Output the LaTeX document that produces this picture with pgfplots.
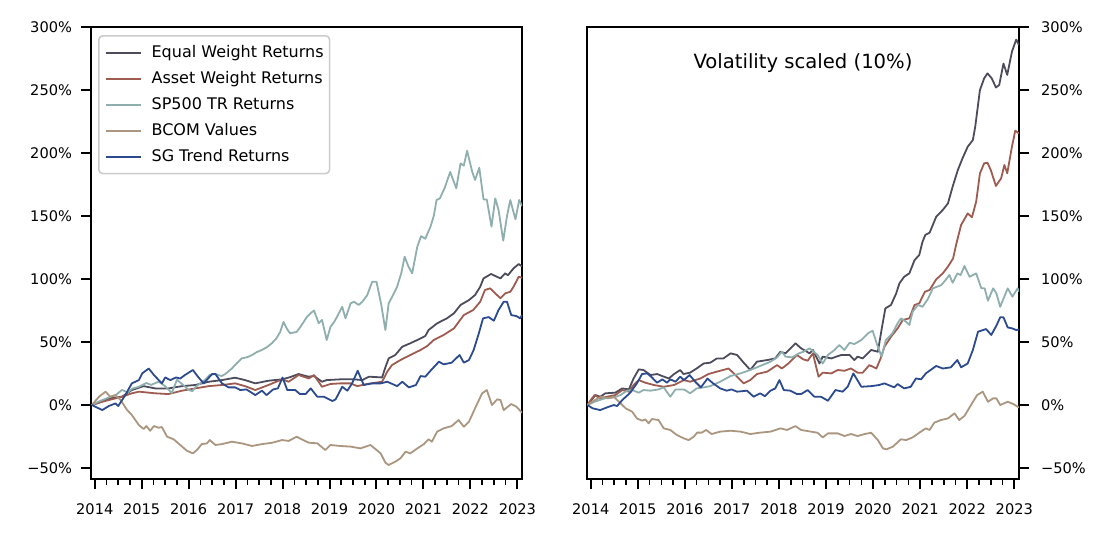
\documentclass[border=0pt]{standalone}
\usepackage{fontspec}
\setmainfont{DejaVu Sans}
\usepackage{pgfplots}
\pgfplotsset{compat=1.18}
\definecolor{cEW}{HTML}{4C4C5C}
\definecolor{cAW}{HTML}{9E5B4F}
\definecolor{cSP}{HTML}{8FAEAE}
\definecolor{cBC}{HTML}{AB9680}
\definecolor{cSG}{HTML}{2C4A8E}
\pgfplotsset{common/.style={
  scale only axis, height=226pt,
  xmin=2013.92, xmax=2023.1, ymin=-58.7, ymax=300,
  axis line style={line width=1pt},
  tick align=outside,
  major tick length=5pt, minor tick length=2.8pt,
  tick style={line width=1pt, black},
  minor tick style={line width=0.8pt, black},
  xtick={2014,2015,2016,2017,2018,2019,2020,2021,2022,2023},
  xticklabels={2014,2015,2016,2017,2018,2019,2020,2021,2022,2023},
  minor x tick num=3,
  xtick pos=bottom,
  ytick={-50,0,50,100,150,200,250,300},
  yticklabels={−50\%,0\%,50\%,100\%,150\%,200\%,250\%,300\%},
  tick label style={font=\fontsize{7.3}{9}\selectfont},
  xticklabel style={yshift=-4pt},
  every axis plot/.append style={line width=0.9pt, line join=round},
}}
\begin{document}
\begin{tikzpicture}
\path[use as bounding box] (0,0) rectangle (554.5pt,268.5pt);
\begin{axis}[common, at={(45.5pt,29pt)}, anchor=south west, width=215.5pt,
  ytick pos=left, yticklabel style={xshift=-1pt},
  legend cell align=left,
  legend image code/.code={\draw[#1] (0pt,0pt) -- (17.5pt,0pt);},
  legend style={at={(0,1)}, anchor=north west, xshift=3.5pt, yshift=-4pt,
    draw=black!20, line width=0.8pt, rounded corners=2pt, fill=white,
    font=\fontsize{8}{9}\selectfont, inner xsep=3pt, inner ysep=4.6pt,
    nodes={inner sep=0pt, text height=6pt, text depth=1.7pt},
    row sep=5.3pt,
    /tikz/every odd column/.append style={column sep=5pt}},
]
\addplot[cEW] coordinates {(2013.94,0) (2014.1,2) (2014.3,5.3) (2014.58,6.6) (2014.79,11.9) (2015.04,15) (2015.29,13.2) (2015.57,13.2) (2015.86,15) (2016.14,15.9) (2016.43,18.5) (2016.71,19.8) (2016.99,21.7) (2017.2,19.8) (2017.42,17.2) (2017.7,19.3) (2017.99,20.4) (2018.15,22) (2018.34,24.6) (2018.55,22.5) (2018.67,23) (2018.84,18.5) (2018.94,19.8) (2019.23,20.4) (2019.52,20.4) (2019.7,19.8) (2019.84,22.5) (2020.12,21.9) (2020.19,30) (2020.26,37) (2020.4,39.7) (2020.55,46.3) (2020.72,49) (2020.87,51.6) (2021.04,54.8) (2021.11,59.5) (2021.29,64.8) (2021.5,68.8) (2021.65,72.8) (2021.79,79.4) (2021.97,83.3) (2022.1,87.3) (2022.21,93.9) (2022.28,100.5) (2022.44,104) (2022.64,100.5) (2022.74,104.5) (2022.8,103) (2022.92,108.5) (2023.03,111.9) (2023.1,110)};
\addlegendentry{Equal Weight Returns}
\addplot[cAW] coordinates {(2013.94,0) (2014.1,2) (2014.3,4) (2014.58,6.6) (2014.79,9.3) (2014.94,10.6) (2015.29,9.3) (2015.57,8.7) (2015.86,11.4) (2016.14,13.2) (2016.43,15) (2016.71,15.9) (2016.99,17.2) (2017.2,15) (2017.42,11.9) (2017.7,15.9) (2017.99,20.4) (2018.13,18.5) (2018.34,23.8) (2018.56,21.1) (2018.67,23.8) (2018.84,14.5) (2019.02,16.7) (2019.23,17.2) (2019.45,17.2) (2019.59,15) (2019.8,16.7) (2020.12,18.5) (2020.23,26.5) (2020.33,31.7) (2020.51,35.7) (2020.72,39.7) (2020.94,43.7) (2021.08,46.8) (2021.22,51.6) (2021.43,55.6) (2021.65,60.8) (2021.86,71.4) (2022.06,75.4) (2022.21,82) (2022.31,91.3) (2022.42,92.6) (2022.64,84.7) (2022.74,88.6) (2022.85,89.9) (2022.92,93.9) (2023.03,101.8) (2023.1,101)};
\addlegendentry{Asset Weight Returns}
\addplot[cSP] coordinates {(2013.94,0) (2014.1,3) (2014.3,6) (2014.45,8) (2014.58,12) (2014.7,10) (2014.8,13) (2014.94,14.5) (2015.1,17.5) (2015.2,16) (2015.36,18.5) (2015.5,15) (2015.64,9.5) (2015.75,20) (2015.85,17) (2016.0,12) (2016.08,11) (2016.15,14.5) (2016.35,20) (2016.45,24) (2016.57,24.6) (2016.7,23) (2016.78,24.6) (2016.92,29) (2017.02,33) (2017.13,37) (2017.25,38) (2017.35,39.7) (2017.45,42) (2017.56,43.7) (2017.67,46) (2017.77,49) (2017.87,53) (2017.95,58) (2018.02,66) (2018.1,60) (2018.16,57) (2018.3,58) (2018.38,62) (2018.45,66) (2018.52,70) (2018.6,73) (2018.67,75) (2018.77,65) (2018.84,67.5) (2018.94,51.6) (2019.02,62) (2019.1,66) (2019.16,70) (2019.27,78) (2019.34,68.8) (2019.45,80.7) (2019.52,82) (2019.62,79.4) (2019.7,82) (2019.8,87) (2019.91,97.9) (2020.0,97.9) (2020.1,80) (2020.19,59.5) (2020.26,80.7) (2020.35,87) (2020.44,93.9) (2020.53,105) (2020.6,117.7) (2020.68,110) (2020.76,104.5) (2020.87,125.7) (2020.95,134) (2021.04,132) (2021.15,141.5) (2021.22,150) (2021.28,162.7) (2021.35,164) (2021.45,172) (2021.57,185) (2021.7,172) (2021.79,191.8) (2021.86,190) (2021.93,201.8) (2022.04,185) (2022.1,178.6) (2022.19,188.3) (2022.28,163.2) (2022.35,163) (2022.45,141.5) (2022.53,164) (2022.6,154.8) (2022.7,130.4) (2022.78,150) (2022.85,162.7) (2022.96,147.4) (2023.04,162.7) (2023.1,158)};
\addlegendentry{SP500 TR Returns}
\addplot[cBC] coordinates {(2013.94,0) (2014.09,6.6) (2014.23,10.6) (2014.33,6.6) (2014.44,7.9) (2014.55,4) (2014.69,-4) (2014.79,-7.9) (2014.94,-15.9) (2015.04,-19) (2015.1,-16.7) (2015.18,-20.4) (2015.26,-16.7) (2015.36,-18) (2015.43,-17.5) (2015.54,-25.1) (2015.68,-27.2) (2015.82,-31.7) (2015.96,-36.2) (2016.09,-38.4) (2016.18,-35.5) (2016.28,-31) (2016.39,-30.4) (2016.45,-27.8) (2016.57,-31.7) (2016.71,-31) (2016.92,-29.1) (2017.13,-30.4) (2017.35,-32.5) (2017.56,-31) (2017.77,-30) (2017.99,-27.8) (2018.13,-28.5) (2018.3,-25.1) (2018.45,-28) (2018.56,-29.9) (2018.74,-30.4) (2018.91,-35.7) (2019.02,-31.7) (2019.23,-32.5) (2019.45,-33) (2019.66,-34.4) (2019.87,-31.7) (2019.98,-35) (2020.09,-38.4) (2020.19,-45.8) (2020.26,-47.6) (2020.4,-45) (2020.51,-42.3) (2020.62,-37) (2020.72,-38.4) (2020.87,-34.4) (2021.01,-31) (2021.11,-27.2) (2021.18,-29.1) (2021.29,-21.2) (2021.43,-18.5) (2021.6,-16.7) (2021.75,-11.9) (2021.86,-17.2) (2021.97,-13.2) (2022.1,-2.6) (2022.25,9.3) (2022.35,11.9) (2022.46,0) (2022.57,4.5) (2022.64,4) (2022.71,-4) (2022.87,0.8) (2022.98,-1.3) (2023.1,-6.1)};
\addlegendentry{BCOM Values}
\addplot[cSG] coordinates {(2013.94,0) (2014.01,-1.3) (2014.16,-4) (2014.3,-0.8) (2014.44,1.3) (2014.5,-0.8) (2014.65,7.9) (2014.79,17.2) (2014.94,19.8) (2015.01,25.1) (2015.15,29) (2015.26,23.8) (2015.43,17.2) (2015.5,21.9) (2015.61,19.8) (2015.73,21.9) (2015.82,21) (2015.92,23.8) (2016.09,27.8) (2016.21,21.9) (2016.32,17.2) (2016.5,24.6) (2016.57,24.6) (2016.71,17.2) (2016.85,14) (2016.99,14) (2017.1,11.9) (2017.23,12.4) (2017.42,7.9) (2017.56,11.4) (2017.66,7.9) (2017.8,12.4) (2017.9,13.2) (2018.0,21.9) (2018.1,11.9) (2018.27,11.9) (2018.37,8.7) (2018.49,8.7) (2018.6,13.2) (2018.74,6.6) (2018.88,6.6) (2019.06,3.2) (2019.13,4.5) (2019.27,14.5) (2019.38,11.4) (2019.48,17.2) (2019.6,27.2) (2019.73,15.9) (2019.91,17.2) (2020.09,17.2) (2020.23,18.5) (2020.44,15) (2020.55,18.5) (2020.69,14) (2020.84,15.9) (2020.94,23) (2021.04,22.5) (2021.15,27.2) (2021.33,34.4) (2021.43,32.3) (2021.6,33.6) (2021.77,39.7) (2021.86,33.6) (2021.97,35.7) (2022.07,43.7) (2022.18,56.9) (2022.27,68.8) (2022.39,69.8) (2022.5,66.9) (2022.6,75.4) (2022.71,82) (2022.78,82) (2022.87,71.4) (2022.98,70.6) (2023.06,68.8) (2023.1,71.4)};
\addlegendentry{SG Trend Returns}
\end{axis}
\begin{axis}[common, at={(293.5pt,29pt)}, anchor=south west, width=216pt,
  ytick pos=right, yticklabel pos=right, yticklabel style={xshift=2.5pt}]
\addplot[cEW] coordinates {(2013.93,0) (2013.96,1.3) (2014.1,7.9) (2014.2,6.6) (2014.31,9.3) (2014.52,9.8) (2014.67,13.2) (2014.81,12.4) (2014.91,21.1) (2015.02,28.3) (2015.12,27.8) (2015.27,23.8) (2015.41,24.6) (2015.52,23) (2015.66,21.1) (2015.77,24.6) (2015.9,27.8) (2015.97,24.6) (2016.11,25.7) (2016.25,29) (2016.4,33) (2016.54,33.6) (2016.68,37) (2016.82,37) (2016.97,41) (2017.11,39.7) (2017.25,33.6) (2017.39,27.8) (2017.53,34.4) (2017.75,35.7) (2017.92,37) (2018.03,42.3) (2018.14,41) (2018.35,49) (2018.47,45) (2018.65,41) (2018.72,43.7) (2018.86,33) (2018.93,38.4) (2019.11,37) (2019.32,39.7) (2019.5,39.7) (2019.6,35.7) (2019.67,38.4) (2019.78,37) (2019.96,43.7) (2020.1,42.3) (2020.19,62) (2020.26,76.7) (2020.38,79.4) (2020.49,88.6) (2020.56,96.6) (2020.66,101.8) (2020.77,104.5) (2020.88,115) (2020.98,119) (2021.05,129.6) (2021.11,135) (2021.2,136.7) (2021.34,149.4) (2021.48,154.8) (2021.59,160) (2021.69,173.3) (2021.8,186.5) (2021.9,195.8) (2022.01,205) (2022.12,210.3) (2022.17,220.9) (2022.27,250) (2022.36,259.3) (2022.43,263.2) (2022.52,259.3) (2022.61,252) (2022.68,254) (2022.77,271) (2022.85,262) (2022.95,280.4) (2023.04,290) (2023.1,285.7)};
\addplot[cAW] coordinates {(2013.93,0) (2014.0,4) (2014.08,7.9) (2014.2,5.3) (2014.35,6.6) (2014.52,7.9) (2014.67,11.9) (2014.81,10.6) (2014.91,15.9) (2015.02,19.8) (2015.16,17.7) (2015.34,15.9) (2015.55,14.5) (2015.77,15.9) (2015.98,19.8) (2016.11,18.5) (2016.33,21.1) (2016.5,24.6) (2016.68,26.5) (2016.93,29) (2017.11,22.5) (2017.25,17.2) (2017.39,19.8) (2017.53,24.6) (2017.75,26.5) (2017.96,31.7) (2018.06,29) (2018.2,33) (2018.38,39.7) (2018.52,36.2) (2018.61,35.2) (2018.72,41) (2018.84,22.5) (2018.93,25.7) (2019.11,25.1) (2019.25,27.8) (2019.39,27.2) (2019.53,29) (2019.67,25.7) (2019.78,25.7) (2019.92,31.7) (2020.07,29) (2020.16,37) (2020.24,46.3) (2020.38,54.2) (2020.52,60.8) (2020.63,67.5) (2020.77,68.8) (2020.88,79.4) (2020.98,80.7) (2021.1,89.9) (2021.2,91.3) (2021.34,99.7) (2021.48,104.5) (2021.59,109.8) (2021.7,116.4) (2021.77,128.3) (2021.87,142.9) (2022.01,152.1) (2022.1,149) (2022.19,161.4) (2022.27,183.9) (2022.36,191.8) (2022.43,192.3) (2022.5,186.5) (2022.61,173.8) (2022.72,179.9) (2022.79,190.5) (2022.85,183.9) (2022.95,205) (2023.02,217.7) (2023.1,215.6)};
\addplot[cSP] coordinates {(2013.93,0) (2014.08,2.6) (2014.3,5.3) (2014.49,6) (2014.63,7.9) (2014.77,11.4) (2014.88,11.9) (2015.02,9.8) (2015.12,11.9) (2015.27,11.4) (2015.44,12.4) (2015.55,14) (2015.69,6.6) (2015.8,12.4) (2015.98,12.4) (2016.11,9.3) (2016.25,13.2) (2016.4,14) (2016.54,15) (2016.75,18.5) (2016.97,23) (2017.18,25.1) (2017.39,27.8) (2017.6,31) (2017.82,34.4) (2017.96,37.8) (2018.06,42.3) (2018.14,38.4) (2018.28,37.8) (2018.42,41) (2018.52,42.3) (2018.65,45) (2018.82,39.7) (2018.93,33) (2019.04,39.7) (2019.18,43.7) (2019.28,47.6) (2019.39,43.7) (2019.5,49.4) (2019.6,48.4) (2019.75,51.6) (2019.89,56.9) (2019.99,59) (2020.08,48.4) (2020.18,38.4) (2020.27,51.6) (2020.41,56.9) (2020.52,64.8) (2020.59,68.8) (2020.7,66.1) (2020.77,63.5) (2020.84,74) (2020.95,79.4) (2021.05,78) (2021.16,83.9) (2021.27,92.6) (2021.45,95.2) (2021.55,99.7) (2021.62,103.2) (2021.69,97) (2021.79,104.5) (2021.86,103.2) (2021.94,110.3) (2022.05,101.8) (2022.19,104.5) (2022.3,92.6) (2022.37,92.6) (2022.44,82.8) (2022.55,92.6) (2022.62,88.6) (2022.7,78) (2022.86,92.6) (2022.96,86) (2023.07,92.6) (2023.1,90)};
\addplot[cBC] coordinates {(2013.93,0) (2014.09,4) (2014.23,6.6) (2014.37,5.3) (2014.49,6.6) (2014.6,2.6) (2014.74,-2.6) (2014.88,-5.3) (2014.98,-10.6) (2015.09,-12.4) (2015.16,-11.4) (2015.23,-14.5) (2015.3,-11.1) (2015.44,-11.9) (2015.55,-18.5) (2015.69,-19.8) (2015.83,-23.8) (2015.98,-26.5) (2016.08,-27.8) (2016.19,-25.1) (2016.26,-21.9) (2016.36,-21.9) (2016.45,-19.8) (2016.57,-23) (2016.75,-21.1) (2016.97,-20.4) (2017.18,-21.1) (2017.39,-23) (2017.6,-21.9) (2017.82,-21.1) (2018.03,-18.5) (2018.17,-19.8) (2018.35,-16.7) (2018.47,-19.8) (2018.68,-21.1) (2018.82,-22) (2018.93,-25.7) (2019.04,-22.5) (2019.25,-22.5) (2019.39,-24.6) (2019.53,-23) (2019.67,-24.6) (2019.82,-23) (2019.96,-22) (2020.1,-27.8) (2020.21,-34.4) (2020.28,-35.2) (2020.42,-33) (2020.59,-27.2) (2020.7,-27.8) (2020.84,-25.7) (2020.98,-22) (2021.12,-18.5) (2021.2,-19.8) (2021.3,-14) (2021.44,-11.9) (2021.59,-10.6) (2021.73,-6.6) (2021.83,-11.9) (2021.94,-8.7) (2022.08,0) (2022.21,7.9) (2022.33,10.6) (2022.44,2.6) (2022.55,5.3) (2022.62,5.3) (2022.7,0) (2022.86,2.6) (2022.98,0.8) (2023.07,-1.3) (2023.1,-2)};
\addplot[cSG] coordinates {(2013.93,0) (2014.04,-2.6) (2014.2,-4) (2014.35,-1.8) (2014.49,0) (2014.56,-0.8) (2014.67,4) (2014.84,9.8) (2014.98,17.2) (2015.09,24.6) (2015.2,25.1) (2015.3,21.9) (2015.41,17.7) (2015.52,20.4) (2015.62,17.7) (2015.69,20.4) (2015.8,18.5) (2015.9,22.5) (2015.98,19.8) (2016.1,23.8) (2016.22,18.5) (2016.34,14) (2016.48,21) (2016.6,17.2) (2016.75,13.2) (2016.89,11.4) (2016.99,12.4) (2017.11,10.6) (2017.32,11.4) (2017.46,6.6) (2017.6,9.3) (2017.7,7) (2017.82,11.4) (2017.92,13.2) (2018.01,19.8) (2018.1,11.9) (2018.24,11.4) (2018.38,8.7) (2018.47,8.7) (2018.61,11.9) (2018.75,6.6) (2018.89,6.6) (2019.04,3.4) (2019.2,11.9) (2019.35,10.6) (2019.46,14.5) (2019.58,25.1) (2019.75,14.5) (2019.96,15) (2020.13,15.9) (2020.24,17.2) (2020.45,14) (2020.52,16.7) (2020.66,13.2) (2020.8,14.5) (2020.91,21.1) (2021.02,20.4) (2021.12,25.1) (2021.34,31) (2021.48,29) (2021.65,29.9) (2021.79,35.7) (2021.87,29.9) (2022.01,33) (2022.12,43.7) (2022.23,58.2) (2022.4,60.3) (2022.51,55.6) (2022.62,63) (2022.7,69.6) (2022.77,69.6) (2022.86,61.6) (2022.96,60.8) (2023.04,59.5) (2023.1,60)};
\node[font=\fontsize{9.8}{11}\selectfont] at (rel axis cs:0.5,0.92) {Volatility scaled (10\%)};
\end{axis}
\end{tikzpicture}
\end{document}
